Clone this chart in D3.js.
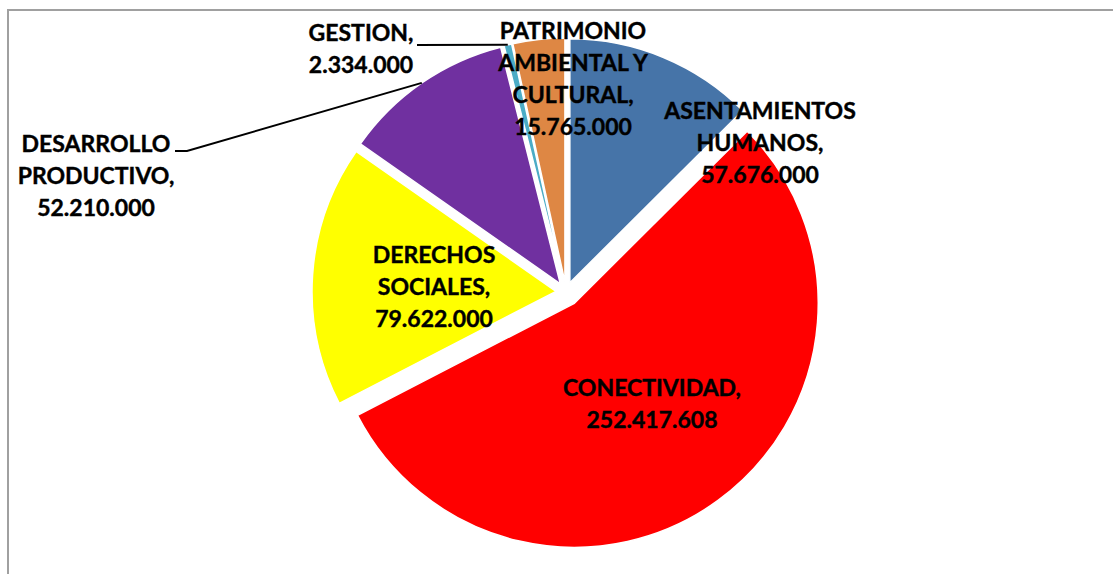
<!DOCTYPE html>
<html>
<head>
  <meta charset="utf-8">
  <title>Inversión por eje</title>
  <style>
    body { margin: 0; background: #fff; }
    text { font-family: Lato, "Open Sans", sans-serif; font-weight: bold; font-size: 23px; fill: #000; stroke: #000; stroke-width: 0.4px; }
  </style>
</head>
<body>
  <svg width="1113" height="574"></svg>
  <script src="https://d3js.org/d3.v7.min.js"></script>
  <script>
    // data, clockwise from 12 o'clock
    var categories = ["ASENTAMIENTOS HUMANOS", "CONECTIVIDAD", "DERECHOS SOCIALES",
      "DESARROLLO PRODUCTIVO", "GESTION", "PATRIMONIO AMBIENTAL Y CULTURAL"];
    var values = [57676000, 252417608, 79622000, 52210000, 2334000, 15765000];
    var colors = ["#4674A8", "#FF0000", "#FFFF00", "#7030A0", "#4BACC6", "#DE8744"];
    // how the category names wrap in the labels
    var labelLines = [["ASENTAMIENTOS", "HUMANOS,"], ["CONECTIVIDAD,"], ["DERECHOS", "SOCIALES,"],
      ["DESARROLLO", "PRODUCTIVO,"], ["GESTION,"], ["PATRIMONIO", "AMBIENTAL Y", "CULTURAL,"]];

    // layout
    var cx = 566, cy = 292, radius = 244;
    var explode = [10, 14, 10, 10, 10, 10];
    var lineH = 32;
    var labelXY = [[760, 143], [652, 404], [434, 287], [96, 176], [361, 49], [573, 79]];
    var leaderFrom = { 3: [[175, 151], [187, 151]], 4: [[417, 45]] };

    var fmt = d3.formatLocale({ decimal: ",", thousands: ".", grouping: [3], currency: ["", ""] }).format(",");

    var data = categories.map(function (c, i) { return { name: c, value: values[i] }; });

    var svg = d3.select("svg");

    // chart frame
    svg.append("rect")
      .attr("x", 8).attr("y", 10)
      .attr("width", 1120).attr("height", 600)
      .attr("fill", "none")
      .attr("stroke", "#a0a0a0")
      .attr("stroke-width", 2);

    var pie = d3.pie().sort(null).value(function (d) { return d.value; });
    var arcs = pie(data);
    var arc = d3.arc().innerRadius(0).outerRadius(radius);

    function offset(d, r) {
      var m = (d.startAngle + d.endAngle) / 2;
      return [r * Math.sin(m), -r * Math.cos(m)];
    }

    var g = svg.append("g").attr("transform", "translate(" + cx + "," + cy + ")");

    g.selectAll("path")
      .data(arcs)
      .enter()
      .append("path")
      .attr("transform", function (d) {
        var o = offset(d, explode[d.index]);
        return "translate(" + o[0] + "," + o[1] + ")";
      })
      .attr("d", arc)
      .attr("fill", function (d) { return colors[d.index]; })
      .attr("stroke", "#fff")
      .attr("stroke-width", 1.5);

    // leader lines for the outside labels
    arcs.forEach(function (d) {
      if (!leaderFrom[d.index]) return;
      var e = offset(d, explode[d.index]);
      var o = offset(d, radius);
      var end = [cx + e[0] + o[0], cy + e[1] + o[1]];
      var pts = leaderFrom[d.index].concat([end]);
      svg.append("path")
        .attr("d", d3.line()(pts))
        .attr("fill", "none")
        .attr("stroke", "#000")
        .attr("stroke-width", 2);
    });

    // labels
    arcs.forEach(function (d) {
      var lines = labelLines[d.index].concat([fmt(d.value)]);
      var n = lines.length;
      var t = svg.append("text")
        .attr("text-anchor", "middle");
      lines.forEach(function (s, k) {
        t.append("tspan")
          .attr("x", labelXY[d.index][0])
          .attr("y", labelXY[d.index][1] + (k - (n - 1) / 2) * lineH)
          .attr("dy", "0.35em")
          .text(s);
      });
    });
  </script>
</body>
</html>
